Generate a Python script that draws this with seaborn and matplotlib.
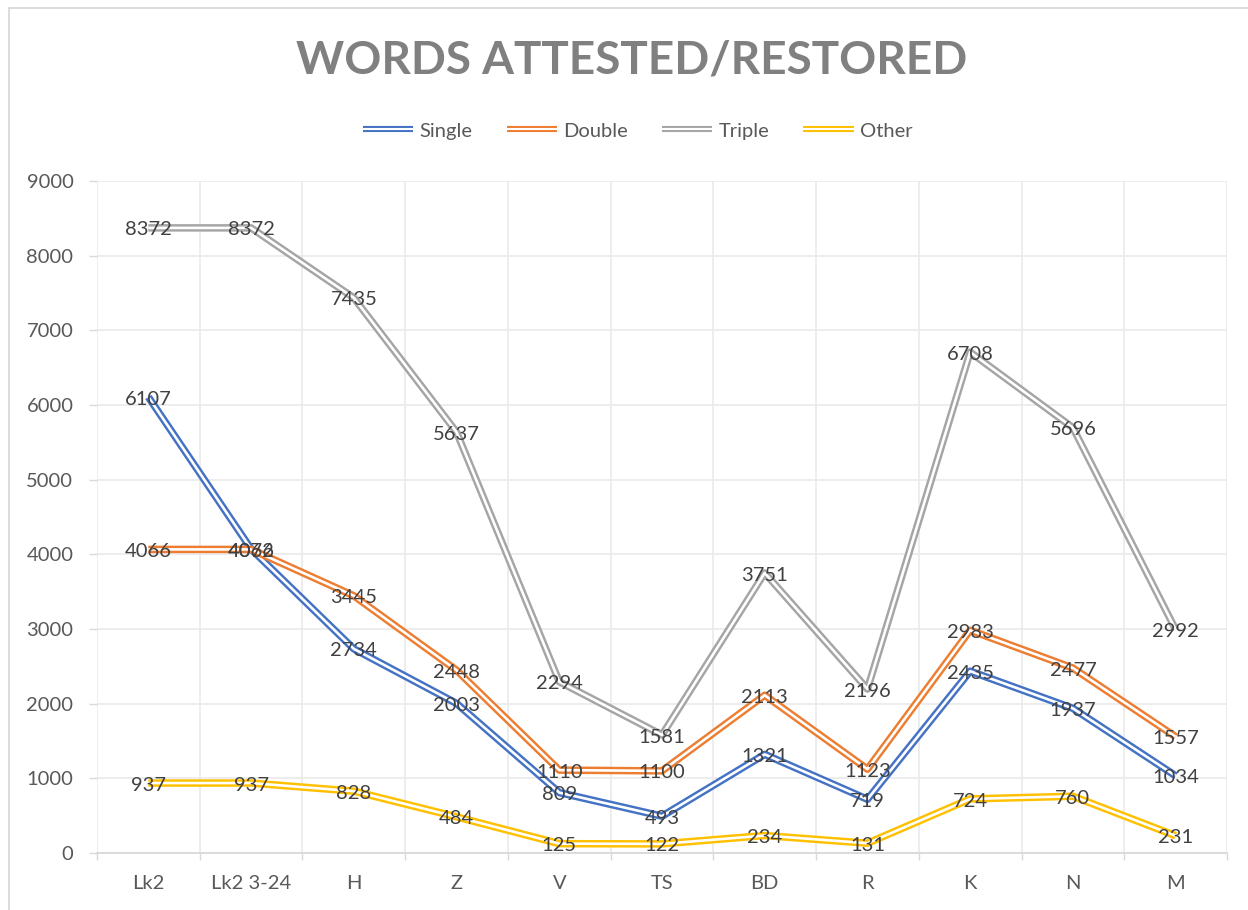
import matplotlib
matplotlib.use("Agg")
import matplotlib.pyplot as plt
from matplotlib.lines import Line2D
from matplotlib.legend_handler import HandlerTuple
from matplotlib.ticker import MultipleLocator, FixedLocator
import seaborn as sns
import pandas as pd

categories = ["Lk2", "Lk2 3-24", "H", "Z", "V", "TS", "BD", "R", "K", "N", "M"]
single = [6107, 4072, 2734, 2003, 809, 493, 1321, 719, 2435, 1937, 1034]
double = [4066, 4066, 3445, 2448, 1110, 1100, 2113, 1123, 2983, 2477, 1557]
triple = [8372, 8372, 7435, 5637, 2294, 1581, 3751, 2196, 6708, 5696, 2992]
other = [937, 937, 828, 484, 125, 122, 234, 131, 724, 760, 231]

series_names = ["Single", "Double", "Triple", "Other"]
series_values = [single, double, triple, other]
colors = ["#4472C4", "#ED7D31", "#A5A5A5", "#FFC000"]

rows = []
for name, vals in zip(series_names, series_values):
    for i, v in enumerate(vals):
        rows.append({"series": name, "idx": i, "value": v})
df = pd.DataFrame(rows)

sns.set_theme(style="white")
plt.rcParams["font.family"] = ["Lato", "DejaVu Sans"]

fig = plt.figure(figsize=(12.48, 9.10), dpi=100)
ax = fig.add_axes([97 / 1248, 1 - 853 / 910, (1227 - 97) / 1248, (853 - 181) / 910])

# double-stroke lines: a wide coloured stroke with a thin white core
OUTER = 5.4
INNER = 1.9
for k, (name, col) in enumerate(zip(series_names, colors)):
    sub = df[df["series"] == name]
    sns.lineplot(data=sub, x="idx", y="value", ax=ax, color=col, lw=OUTER,
                 legend=False, zorder=3 + 2 * k, solid_capstyle="butt",
                 solid_joinstyle="round")
    sns.lineplot(data=sub, x="idx", y="value", ax=ax, color="white", lw=INNER,
                 legend=False, zorder=4 + 2 * k, solid_capstyle="butt",
                 solid_joinstyle="round")

# value labels centred on each point
for vals in series_values:
    for i, v in enumerate(vals):
        ax.annotate(f"{v}", (i, v), xytext=(0, -1.5), textcoords="offset points",
                    ha="center", va="center", fontsize=14.5,
                    color="#404040", zorder=20)

ax.set_xlim(-0.5, len(categories) - 0.5)
ax.set_ylim(0, 9000)
ax.yaxis.set_major_locator(MultipleLocator(1000))
ax.set_xticks(range(len(categories)))
ax.set_xticklabels(categories)
ax.xaxis.set_minor_locator(FixedLocator([i - 0.5 for i in range(len(categories) + 1)]))
ax.set_xlabel("")
ax.set_ylabel("")

grid_c = "#EAEAEA"
ax.grid(False)
ax.yaxis.grid(True, which="major", color=grid_c, lw=1.2, zorder=0)
ax.xaxis.grid(True, which="minor", color=grid_c, lw=1.2, zorder=0)
for s in ["top", "right", "left"]:
    ax.spines[s].set_visible(False)
ax.spines["bottom"].set_color("#D9D9D9")
ax.spines["bottom"].set_linewidth(1.3)
ax.spines["bottom"].set_zorder(2)

ax.tick_params(axis="x", which="major", length=0, pad=16, labelsize=14.5,
               labelcolor="#595959")
ax.tick_params(axis="x", which="minor", length=5, width=1.0, color="#D9D9D9",
               direction="out", bottom=True)
ax.tick_params(axis="y", which="major", length=6, width=1.0, color="#D9D9D9",
               direction="out", left=True, pad=11, labelsize=14.5,
               labelcolor="#595959")
ax.set_facecolor("white")

fig.text(0.506, 0.934, "WORDS ATTESTED/RESTORED", ha="center", va="center",
         fontsize=33, fontweight="bold", color="#808080")

handles = [(Line2D([], [], color=c, lw=4.4, solid_capstyle="butt"),
            Line2D([], [], color="white", lw=1.5, solid_capstyle="butt"))
           for c in colors]
fig.legend(handles, series_names, handler_map={tuple: HandlerTuple(ndivide=1)},
           loc="center", bbox_to_anchor=(0.511, 1 - 131 / 910), ncol=4,
           frameon=False, fontsize=14.5, labelcolor="#595959",
           handlelength=2.5, handletextpad=0.3, columnspacing=1.7)

# chart area border
fig.add_artist(Line2D([9 / 1248, 9 / 1248], [0, 1 - 8 / 910],
                      transform=fig.transFigure, color="#D9D9D9", lw=1.3))
fig.add_artist(Line2D([9 / 1248, 1], [1 - 8 / 910, 1 - 8 / 910],
                      transform=fig.transFigure, color="#D9D9D9", lw=1.3))

fig.savefig("out.png", dpi=100, facecolor="white")
